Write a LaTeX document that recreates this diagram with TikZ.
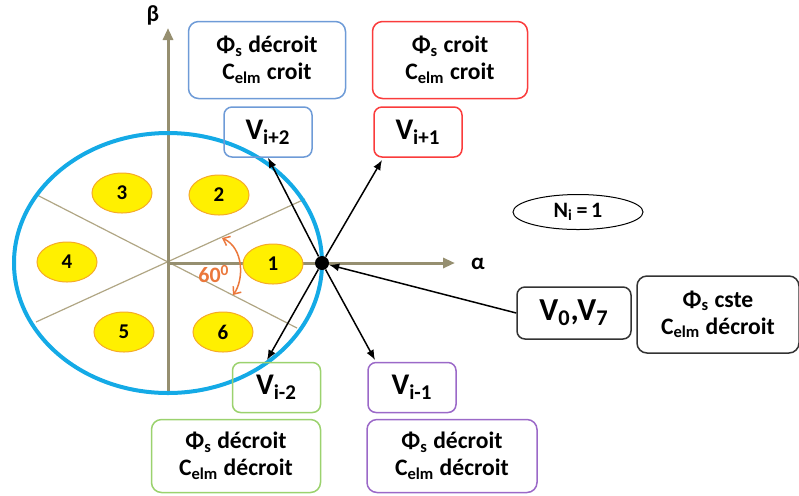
\documentclass[tikz,border=0pt]{standalone}
\usepackage{fontspec}
\setmainfont{Carlito}
\usetikzlibrary{arrows.meta,shapes.geometric,positioning,calc}
\definecolor{axe}{RGB}{150,143,112}
\definecolor{rayon}{RGB}{176,166,132}
\definecolor{cercle}{RGB}{20,170,230}
\definecolor{jaune}{RGB}{255,240,0}
\definecolor{bordjaune}{RGB}{245,170,40}
\definecolor{angle}{RGB}{235,120,60}
\definecolor{bleu}{RGB}{110,155,215}
\definecolor{rouge}{RGB}{250,60,60}
\definecolor{vert}{RGB}{155,210,110}
\definecolor{violet}{RGB}{155,105,200}

\begin{document}
\begin{tikzpicture}[x=0.5pt,y=-0.5pt,
    boite/.style={draw,rounded corners=5pt,line width=0.75pt,align=center,inner sep=0pt,
                  font=\bfseries\fontsize{11.8}{13.5}\selectfont},
    vecteur/.style={draw,rounded corners=4pt,line width=0.75pt,inner sep=0pt,
                  minimum width=44pt,minimum height=25pt,font=\bfseries\fontsize{15}{17}\selectfont},
    secteur/.style={ellipse,draw=bordjaune,fill=jaune,line width=0.5pt,inner sep=0pt,
                  minimum width=30pt,minimum height=20pt,font=\bfseries\fontsize{10.5}{12}\selectfont},
    axefl/.style={-{Triangle[length=6pt,width=5pt]},line width=1.5pt,axe},
    fleche/.style={-{Latex[length=5pt,width=4pt]},line width=0.75pt}]
  \useasboundingbox (0,0) rectangle (799,495);
  % plan alpha-beta
  \draw[rayon,line width=0.6pt] (37,195) -- (297,328);
  \draw[rayon,line width=0.6pt] (36,322) -- (305,199);
  \draw[axefl] (168,392) -- (168,28);
  \draw[axefl] (168,263) -- (455,263);
  \node[font=\bfseries\fontsize{11.5}{13}\selectfont] (beta) at (153,15) {β};
  \node[font=\bfseries\fontsize{11.5}{13}\selectfont] (alpha) at (478,264) {α};
  \draw[cercle,line width=2pt] (168,263) ellipse [x radius=77pt,y radius=65pt];
  \foreach \n/\x/\y in {1/273/264,2/219/195,3/122/193,4/67/262,5/124/332,6/223/332}
    \node[secteur] (s\n) at (\x,\y) {\n};
  \draw[angle,line width=0.75pt,{Straight Barb[length=3pt,width=5pt]}-{Straight Barb[length=3pt,width=5pt]}]
    (222,238) .. controls (244,248) and (244,280) .. (233,295);
  \node[text=angle,font=\bfseries\fontsize{11}{12}\selectfont] (deg) at (214,274) {60\textsuperscript{0}};
  \node[circle,fill=black,minimum size=7pt,inner sep=0pt] (pt) at (322,263) {};
  % vecteurs tension
  \node[boite,draw=bleu,minimum width=78.5pt,minimum height=38.5pt] (hg) at (267,60)
       {Φ\textsubscript{s} décroit\\C\textsubscript{elm} croit};
  \node[boite,draw=rouge,minimum width=77.5pt,minimum height=38.5pt] (hd) at (450,60)
       {Φ\textsubscript{s} croit\\C\textsubscript{elm} croit};
  \node[vecteur,draw=bleu] (vip2) at (268,132) {V\textsubscript{i+2}};
  \node[vecteur,draw=rouge] (vip1) at (418,132) {V\textsubscript{i+1}};
  \node[vecteur,draw=vert] (vim2) at (276.5,387.5) {V\textsubscript{i-2}};
  \node[vecteur,draw=violet] (vim1) at (412,387.5) {V\textsubscript{i-1}};
  \node[boite,draw=vert,minimum width=84.5pt,minimum height=36.5pt] (bg) at (236,456)
       {Φ\textsubscript{s} décroit\\C\textsubscript{elm} décroit};
  \node[boite,draw=violet,minimum width=85pt,minimum height=36.5pt] (bd) at (452,456)
       {Φ\textsubscript{s} décroit\\C\textsubscript{elm} décroit};
  \node[ellipse,draw,line width=0.5pt,minimum width=65pt,minimum height=17.5pt,inner sep=0pt,
        font=\bfseries\fontsize{11}{12}\selectfont] (ni) at (578,212) {N\textsubscript{i}\,=\,1};
  \node[vecteur,draw=black!80,minimum width=57pt,minimum height=26pt,
        font=\bfseries\fontsize{16}{18}\selectfont] (v07) at (574,313)
       {V\textsubscript{0},V\textsubscript{7}};
  \node[boite,draw=black!80,minimum width=81pt,minimum height=38.5pt] (cste) at (718,314.5)
       {Φ\textsubscript{s} cste\\C\textsubscript{elm} décroit};
  \coordinate (c1) at (382,160);
  \coordinate (c2) at (267,360);
  \coordinate (c3) at (375,360);
  \draw[fleche] (pt) -- (vip2.south);
  \foreach \c in {c1,c2,c3} \draw[fleche] (pt) -- (\c);
  \draw[fleche] (v07.west) -- (pt);
\end{tikzpicture}
\end{document}
